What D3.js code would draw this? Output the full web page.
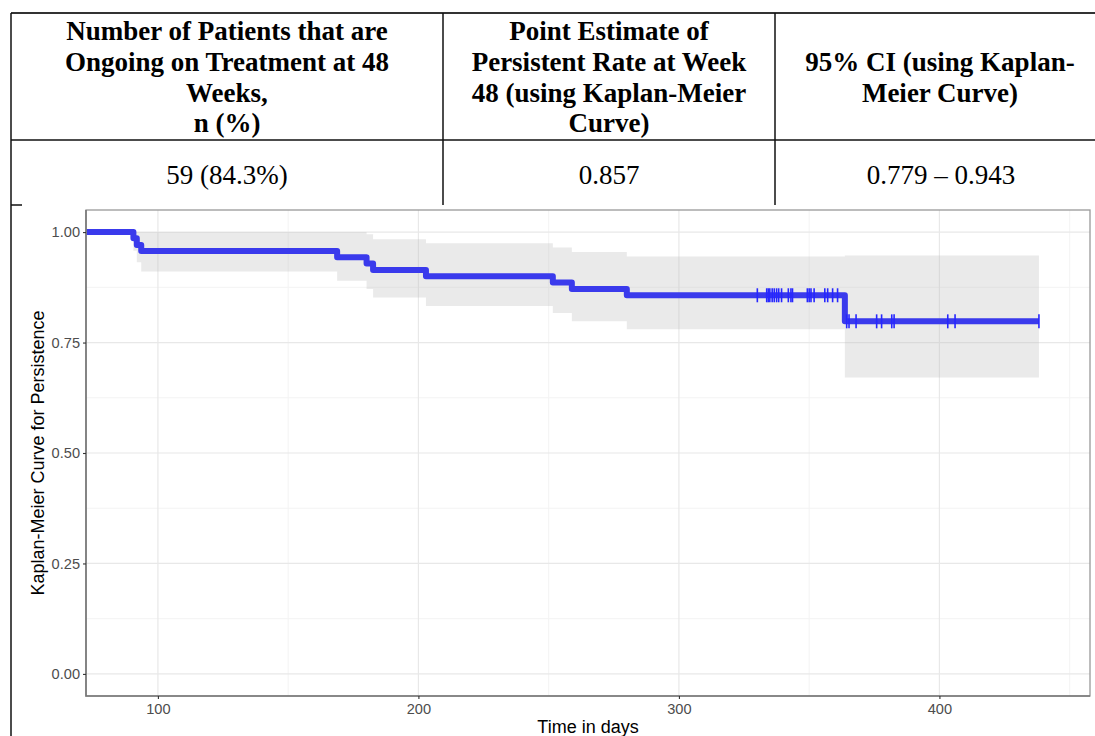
<!DOCTYPE html>
<html>
<head>
<meta charset="utf-8">
<script src="https://cdn.jsdelivr.net/npm/d3@7"></script>
<style>
body { margin: 0; background: #fff; }
.hdr { font-family: "Liberation Serif", "Times New Roman", serif; font-weight: bold; font-size: 27px; fill: #000; }
.cell { font-family: "Liberation Serif", "Times New Roman", serif; font-size: 27px; fill: #000; }
.tick text { font-family: "Liberation Sans", Arial, sans-serif; font-size: 14.6px; fill: #4d4d4d; }
.ttl { font-family: "Liberation Sans", Arial, sans-serif; font-size: 18px; fill: #000; }
</style>
</head>
<body>
<svg class="canvas"></svg>
<script>

// table text
var headers = [
	["Number of Patients that are", "Ongoing on Treatment at 48", "Weeks,", "n (%)"],
	["Point Estimate of", "Persistent Rate at Week", "48 (using Kaplan-Meier", "Curve)"],
	["", "95% CI (using Kaplan-", "Meier Curve)", ""]
];
var cells = ["59 (84.3%)", "0.857", "0.779 \u2013 0.943"];

// KM step data
var eventTimes = [90.6, 91.9, 93.6, 168.8, 180.1, 182.6, 202.9, 251.6, 258.9, 280.0, 363.7];
var survival   = [0.986, 0.971, 0.957, 0.943, 0.929, 0.914, 0.900, 0.886, 0.871, 0.857, 0.798];
var upperCI    = [1.0, 1.0, 1.0, 1.0, 0.995, 0.984, 0.975, 0.965, 0.955, 0.945, 0.947];
var lowerCI    = [0.958, 0.932, 0.911, 0.890, 0.871, 0.852, 0.833, 0.817, 0.798, 0.780, 0.671];
var lastTime = 438.2;
var censorTimes = [330.1, 333.7, 334.3, 334.9, 335.8, 336.6, 337.5, 338.3, 339.4, 342.0, 343.0, 343.6,
	349.3, 350.0, 350.7, 351.9, 356.0, 357.1, 359.0, 360.9, 364.4, 365.3, 368.0, 375.9, 377.8,
	381.7, 382.6, 403.2, 406.0, 438.2];

var xTicks = [100, 200, 300, 400];
var xMinor = [150, 250, 350, 450];
var yTicks = [0, 0.25, 0.5, 0.75, 1];
var yMinor = [0.125, 0.375, 0.625, 0.875];

var width = 1095,
	height = 736;

var TABLE_L = 11, TABLE_T = 13, HDR_B = 140, COL_B = 205;
var COL_X = [11, 443, 775, 1105];
var LINE_Y = [40, 71, 102, 132];

var PANEL_L = 86, PANEL_R = 1090, PANEL_T = 210, PANEL_B = 696;

var canvas = d3.select(".canvas")
	.attr("width", width)
	.attr("height", height);

// ---- table ----
var tbl = canvas.append("g").attr("class", "table");

tbl.append("line").attr("x1", TABLE_L).attr("x2", width).attr("y1", TABLE_T).attr("y2", TABLE_T)
	.attr("stroke", "#333").attr("stroke-width", 2);
tbl.append("line").attr("x1", TABLE_L).attr("x2", width).attr("y1", HDR_B).attr("y2", HDR_B)
	.attr("stroke", "#111").attr("stroke-width", 1.5);
tbl.append("line").attr("x1", TABLE_L).attr("x2", TABLE_L).attr("y1", TABLE_T).attr("y2", height)
	.attr("stroke", "#111").attr("stroke-width", 1.5);
tbl.append("line").attr("x1", TABLE_L).attr("x2", 22).attr("y1", COL_B).attr("y2", COL_B)
	.attr("stroke", "#111").attr("stroke-width", 1.5);
tbl.selectAll("line.sep").data([COL_X[1], COL_X[2]])
	.enter().append("line")
	.attr("class", "sep")
	.attr("x1", function(d) { return d; })
	.attr("x2", function(d) { return d; })
	.attr("y1", TABLE_T)
	.attr("y2", COL_B)
	.attr("stroke", "#111").attr("stroke-width", 1.5);

headers.forEach(function(lines, c) {
	var cx = c == 2 ? 940 : (COL_X[c] + COL_X[c + 1]) / 2;
	tbl.selectAll("text.h" + c).data(lines)
		.enter().append("text")
		.attr("class", "hdr h" + c)
		.attr("x", cx)
		.attr("y", function(d, i) { return LINE_Y[i]; })
		.attr("text-anchor", "middle")
		.text(function(d) { return d; });
});

tbl.selectAll("text.cell").data(cells)
	.enter().append("text")
	.attr("class", "cell")
	.attr("x", function(d, i) { return i == 2 ? 941 : (COL_X[i] + COL_X[i + 1]) / 2; })
	.attr("y", 184)
	.attr("text-anchor", "middle")
	.text(function(d) { return d; });

// ---- KM plot ----
var x = d3.scaleLinear().domain([72.4, 457.8]).range([PANEL_L, PANEL_R]);
var y = d3.scaleLinear().domain([-0.05, 1.05]).range([PANEL_B, PANEL_T]);

var plot = canvas.append("g").attr("class", "plot");

canvas.append("clipPath").attr("id", "clip")
	.append("rect")
	.attr("x", PANEL_L).attr("y", PANEL_T)
	.attr("width", PANEL_R - PANEL_L).attr("height", PANEL_B - PANEL_T);

// grid
plot.selectAll("line.vmin").data(xMinor).enter().append("line")
	.attr("x1", x).attr("x2", x).attr("y1", PANEL_T).attr("y2", PANEL_B)
	.attr("stroke", "#f3f3f3").attr("stroke-width", 1)
	.attr("clip-path", "url(#clip)");
plot.selectAll("line.hmin").data(yMinor).enter().append("line")
	.attr("x1", PANEL_L).attr("x2", PANEL_R).attr("y1", y).attr("y2", y)
	.attr("stroke", "#f3f3f3").attr("stroke-width", 1);
plot.selectAll("line.vmaj").data(xTicks).enter().append("line")
	.attr("x1", x).attr("x2", x).attr("y1", PANEL_T).attr("y2", PANEL_B)
	.attr("stroke", "#e8e8e8").attr("stroke-width", 1.2);
plot.selectAll("line.hmaj").data(yTicks).enter().append("line")
	.attr("x1", PANEL_L).attr("x2", PANEL_R).attr("y1", y).attr("y2", y)
	.attr("stroke", "#e8e8e8").attr("stroke-width", 1.2);

// confidence ribbon
var ribbon = eventTimes.map(function(t, i) { return { t: t, lo: lowerCI[i], hi: upperCI[i] }; });
ribbon.push({ t: lastTime, lo: lowerCI[lowerCI.length - 1], hi: upperCI[upperCI.length - 1] });

plot.append("path")
	.datum(ribbon)
	.attr("fill", "#bdbdbd")
	.attr("fill-opacity", 0.32)
	.attr("d", d3.area()
		.curve(d3.curveStepAfter)
		.x(function(d) { return x(d.t); })
		.y0(function(d) { return y(d.lo); })
		.y1(function(d) { return y(d.hi); }));

// survival step line
var steps = [{ t: 0, s: 1 }].concat(eventTimes.map(function(t, i) { return { t: t, s: survival[i] }; }));
steps.push({ t: lastTime, s: survival[survival.length - 1] });

plot.append("path")
	.datum(steps)
	.attr("clip-path", "url(#clip)")
	.attr("fill", "none")
	.attr("stroke", "#3a3aec")
	.attr("stroke-width", 6)
	.attr("stroke-linejoin", "round")
	.attr("d", d3.line()
		.curve(d3.curveStepAfter)
		.x(function(d) { return x(d.t); })
		.y(function(d) { return y(d.s); }));

function survAt(t) {
	var i = d3.bisectRight(eventTimes, t);
	return i == 0 ? 1 : survival[i - 1];
}

plot.selectAll("line.cens").data(censorTimes)
	.enter().append("line")
	.attr("class", "cens")
	.attr("x1", x).attr("x2", x)
	.attr("y1", function(d) { return y(survAt(d)) - 7; })
	.attr("y2", function(d) { return y(survAt(d)) + 7; })
	.attr("stroke", "#2626ff")
	.attr("stroke-width", 1.6);

// panel border
plot.append("rect")
	.attr("x", PANEL_L).attr("y", PANEL_T)
	.attr("width", PANEL_R - PANEL_L).attr("height", PANEL_B - PANEL_T)
	.attr("fill", "none")
	.attr("stroke", "#999").attr("stroke-width", 1.3);
plot.append("path")
	.attr("d", "M" + PANEL_L + "," + PANEL_T + "V" + PANEL_B + "H" + PANEL_R)
	.attr("fill", "none")
	.attr("stroke", "#777").attr("stroke-width", 1.6);

// axes
var xAxis = plot.append("g")
	.attr("transform", "translate(0," + PANEL_B + ")")
	.call(d3.axisBottom(x).tickValues(xTicks).tickSize(3).tickPadding(5).tickFormat(d3.format("d")));
var yAxis = plot.append("g")
	.attr("transform", "translate(" + PANEL_L + ",0)")
	.call(d3.axisLeft(y).tickValues(yTicks).tickSize(3).tickPadding(3).tickFormat(d3.format(".2f")));

[xAxis, yAxis].forEach(function(a) {
	a.select(".domain").remove();
	a.selectAll(".tick line").attr("stroke", "#333").attr("stroke-width", 1.1);
});
xAxis.selectAll(".tick text").attr("dy", "0.71em");

plot.append("text")
	.attr("class", "ttl")
	.attr("x", (PANEL_L + PANEL_R) / 2)
	.attr("y", 733)
	.attr("text-anchor", "middle")
	.text("Time in days");

plot.append("text")
	.attr("class", "ttl")
	.attr("transform", "translate(44," + ((PANEL_T + PANEL_B) / 2) + ") rotate(-90)")
	.attr("text-anchor", "middle")
	.text("Kaplan-Meier Curve for Persistence");

</script>
</body>
</html>
